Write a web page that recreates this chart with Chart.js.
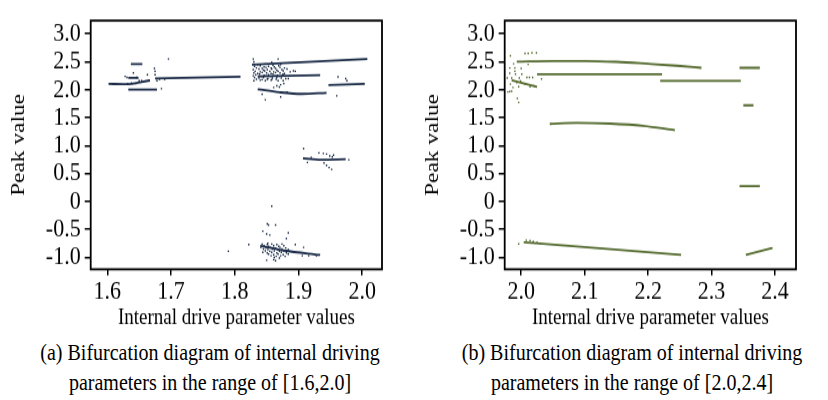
<!DOCTYPE html>
<html>
<head>
<meta charset="utf-8">
<script src="https://cdn.jsdelivr.net/npm/chart.js@4.4.0/dist/chart.umd.min.js"></script>
<style>
  body { margin: 0; background: #fff; width: 828px; height: 400px; position: relative; overflow: hidden; font-family: 'Liberation Serif', 'Times New Roman', serif; }
  .panel { position: absolute; top: 0; width: 414px; height: 330px; }
  /* the original figure is stretched vertically, so the canvases are too */
  .panel canvas { width: 414px; height: 330px; }
  .caption { position: absolute; top: 337px; width: 420px; text-align: center; font-size: 20px; line-height: 25px; color: #000; white-space: nowrap; transform: scaleY(1.2); transform-origin: top center; }
</style>
</head>
<body>
<div class="panel" style="left:0"><canvas id="chartA" width="414" height="275" style="width:414px;height:330px"></canvas></div>
<div class="panel" style="left:414px"><canvas id="chartB" width="414" height="275" style="width:414px;height:330px"></canvas></div>
<div class="caption" style="left:0">(a) Bifurcation diagram of internal driving<br>parameters in the range of [1.6,2.0]</div>
<div class="caption" style="left:422px">(b) Bifurcation diagram of internal driving<br>parameters in the range of [2.0,2.4]</div>
<script>
// y axis ticks (shared)
const yTickValues = [3.0, 2.5, 2.0, 1.5, 1.0, 0.5, 0, -0.5, -1.0];
const yTickLabels = ['3.0', '2.5', '2.0', '1.5', '1.0', '0.5', '0', '-0.5', '-1.0'];

// panel (a)
const xTicksA = [1.6, 1.7, 1.8, 1.9, 2.0];
const xLabelsA = ['1.6', '1.7', '1.8', '1.9', '2.0'];

const linesA = [
    [[1.602, 2.105], [1.628, 2.10], [1.667, 2.167]],
    [[1.637, 2.459], [1.655, 2.459]],
    [[1.633, 2.211], [1.649, 2.211]],
    [[1.633, 2.003], [1.678, 2.003]],
    [[1.675, 2.20], [1.809, 2.234]],
    [[1.827, 2.448], [2.008, 2.549]],
    [[1.836, 2.24], [1.934, 2.262]],
    [[1.836, 2.01], [1.87, 1.955], [1.905, 1.925], [1.944, 1.945]],
    [[1.947, 2.083], [2.004, 2.105]],
    [[1.907, 0.775], [1.935, 0.748], [1.974, 0.758]],
    [[1.840, -0.792], [1.877, -0.876], [1.934, -0.955]]
];

const pointsA = [
    // left group
    [1.628, 2.24], [1.631, 2.22], [1.641, 2.30], [1.646, 2.22], [1.650, 2.16], [1.632, 2.11], [1.638, 2.12],
    [1.645, 2.11], [1.654, 2.16], [1.663, 2.27], [1.674, 2.38], [1.675, 2.33], [1.675, 2.27], [1.678, 2.16],
    [1.682, 2.19], [1.690, 2.19], [1.685, 2.02], [1.696, 2.55],
    // dense group near 1.85, upper
    [1.830, 2.50], [1.858, 2.49], [1.836, 2.45], [1.848, 2.46], [1.860, 2.44], [1.872, 2.45],
    [1.831, 2.42], [1.840, 2.43], [1.846, 2.41], [1.853, 2.42], [1.862, 2.41], [1.869, 2.43],
    [1.834, 2.39], [1.843, 2.38], [1.849, 2.40], [1.857, 2.39], [1.864, 2.38], [1.871, 2.40], [1.878, 2.39],
    [1.829, 2.36], [1.838, 2.37], [1.845, 2.35], [1.851, 2.36], [1.858, 2.37], [1.866, 2.35], [1.874, 2.36], [1.882, 2.37],
    [1.832, 2.33], [1.840, 2.32], [1.847, 2.34], [1.855, 2.33], [1.861, 2.32], [1.868, 2.33], [1.876, 2.34], [1.895, 2.33],
    [1.830, 2.30], [1.836, 2.29], [1.843, 2.31], [1.850, 2.30], [1.857, 2.29], [1.864, 2.31], [1.871, 2.30], [1.878, 2.29],
    [1.833, 2.27], [1.839, 2.28], [1.846, 2.26], [1.853, 2.27], [1.860, 2.28], [1.867, 2.26], [1.875, 2.27],
    [1.829, 2.25], [1.842, 2.24], [1.849, 2.25], [1.856, 2.24], [1.863, 2.25], [1.870, 2.24],
    [1.831, 2.22], [1.838, 2.21], [1.845, 2.22], [1.852, 2.20], [1.859, 2.21], [1.866, 2.22], [1.873, 2.21], [1.880, 2.20],
    [1.834, 2.19], [1.843, 2.18], [1.851, 2.19], [1.858, 2.18], [1.865, 2.19], [1.884, 2.20],
    [1.830, 2.16], [1.840, 2.17], [1.848, 2.16], [1.857, 2.17], [1.868, 2.16], [1.876, 2.16],
    [1.829, 2.55], [1.868, 2.55], [1.887, 2.32], [1.892, 2.34], [1.876, 2.27],
    [1.861, 2.04], [1.866, 2.07], [1.870, 2.05], [1.872, 2.09], [1.877, 2.11],
    [1.843, 1.92], [1.848, 1.82], [1.872, 1.87], [1.882, 1.96],
    [1.962, 2.23], [1.974, 2.20], [1.976, 2.16], [1.960, 1.89],
    // group near 0.75
    [1.908, 0.95], [1.914, 0.70], [1.920, 0.79], [1.932, 0.87], [1.939, 0.86], [1.944, 0.85], [1.949, 0.815],
    [1.953, 0.80], [1.955, 0.83], [1.940, 0.69], [1.944, 0.647], [1.948, 0.607], [1.952, 0.575], [1.979, 0.748],
    // lower group
    [1.858, -0.08], [1.851, -0.40], [1.853, -0.42], [1.864, -0.42], [1.844, -0.53], [1.850, -0.58], [1.855, -0.60],
    [1.884, -0.56], [1.881, -0.66], [1.852, -0.745], [1.822, -0.77], [1.790, -0.89],
    [1.843, -0.76], [1.851, -0.77], [1.858, -0.76], [1.866, -0.77], [1.874, -0.76],
    [1.846, -0.79], [1.853, -0.80], [1.861, -0.79], [1.869, -0.80], [1.877, -0.79], [1.895, -0.77],
    [1.841, -0.82], [1.849, -0.83], [1.856, -0.82], [1.864, -0.83], [1.871, -0.82], [1.880, -0.83], [1.908, -0.82],
    [1.845, -0.85], [1.852, -0.86], [1.859, -0.85], [1.867, -0.86], [1.874, -0.85], [1.884, -0.86],
    [1.848, -0.88], [1.855, -0.89], [1.862, -0.88], [1.870, -0.89], [1.877, -0.88], [1.886, -0.89],
    [1.844, -0.91], [1.851, -0.92], [1.858, -0.91], [1.866, -0.92], [1.873, -0.91], [1.881, -0.92], [1.893, -0.91],
    [1.853, -0.94], [1.861, -0.95], [1.868, -0.94], [1.876, -0.95], [1.884, -0.94],
    [1.857, -0.97], [1.865, -0.98], [1.872, -0.97], [1.879, -0.98], [1.906, -0.97], [1.916, -0.97], [1.928, -0.97],
    [1.862, -1.00], [1.870, -1.01], [1.850, -1.05], [1.861, -1.04], [1.864, -1.06]
];

// panel (b)
const xTicksB = [2.0, 2.1, 2.2, 2.3, 2.4];
const xLabelsB = ['2.0', '2.1', '2.2', '2.3', '2.4'];

const linesB = [
    [[1.993, 2.504], [2.05, 2.515], [2.10, 2.515], [2.15, 2.50], [2.20, 2.465], [2.245, 2.43], [2.284, 2.392]],
    [[2.025, 2.279], [2.222, 2.279]],
    [[2.219, 2.161], [2.346, 2.161]],
    [[2.344, 2.392], [2.376, 2.392]],
    [[2.350, 1.721], [2.366, 1.721]],
    [[2.344, 0.273], [2.376, 0.273]],
    [[2.354, -0.955], [2.396, -0.831]],
    [[2.045, 1.389], [2.087, 1.406], [2.140, 1.394], [2.192, 1.355], [2.242, 1.276]],
    [[2.004, -0.730], [2.129, -0.842], [2.252, -0.955]],
    [[1.985, 2.172], [2.025, 2.054]]
];

const pointsB = [
    [1.983, 2.606], [2.006, 2.65], [2.011, 2.65], [2.017, 2.66], [2.024, 2.66], [1.988, 2.465], [2.011, 2.454],
    [1.982, 2.39], [1.990, 2.39], [2.000, 2.38], [1.982, 2.296], [1.991, 2.28], [2.001, 2.28], [1.978, 2.21],
    [1.985, 2.21], [1.997, 2.21], [2.009, 2.22], [2.013, 2.22], [2.018, 2.22], [2.032, 2.194], [1.983, 2.10],
    [1.996, 2.054], [2.014, 2.054], [1.987, 2.04], [1.993, 2.127], [1.999, 2.155], [1.979, 1.96], [1.982, 1.97],
    [1.985, 1.975], [1.994, 1.846], [1.996, 1.772], [2.006, 2.10], [2.020, 2.07], [1.990, 2.33],
    [1.996, -0.758], [2.008, -0.69], [2.014, -0.70], [2.019, -0.715], [2.025, -0.73], [2.030, -0.75]
];

const FONT = 'Liberation Serif';

const boxPlugin = {
    id: 'box',
    afterDraw(chart) {
        const { ctx, chartArea: a } = chart;
        ctx.save();
        ctx.strokeStyle = '#000';
        ctx.lineWidth = 1.8;
        ctx.strokeRect(a.left, a.top, a.right - a.left, a.bottom - a.top);
        ctx.restore();
    }
};

function toXY(arr) {
    return arr.map(p => ({ x: p[0], y: p[1] }));
}

function makeChart(id, points, lines, color, xMin, xMax, xTicks, xLabels) {
    const datasets = lines.map(seg => ({
        data: toXY(seg),
        showLine: true,
        borderColor: color,
        borderWidth: 1.8,
        pointRadius: 0,
        cubicInterpolationMode: 'monotone',
        fill: false
    }));
    datasets.push({
        data: toXY(points),
        pointStyle: 'rect',
        pointRadius: 1,
        backgroundColor: color,
        borderWidth: 0
    });

    new Chart(document.getElementById(id), {
        type: 'scatter',
        data: { datasets: datasets },
        options: {
            responsive: false,
            animation: false,
            devicePixelRatio: 1,
            layout: { padding: { top: 5, right: 32, left: 0, bottom: 0 } },
            plugins: { legend: { display: false }, tooltip: { enabled: false } },
            scales: {
                x: {
                    type: 'linear',
                    min: xMin,
                    max: xMax,
                    afterBuildTicks: axis => { axis.ticks = xTicks.map(v => ({ value: v })); },
                    afterFit: axis => { axis.height = 50.6; },
                    grid: { drawOnChartArea: false, drawTicks: true, tickLength: 5, color: '#000', lineWidth: 1.5 },
                    border: { display: false },
                    ticks: {
                        color: '#000',
                        font: { family: FONT, size: 22 },
                        padding: 1,
                        maxRotation: 0,
                        autoSkip: false,
                        callback: v => xLabels[xTicks.findIndex(t => Math.abs(t - v) < 1e-6)]
                    },
                    title: {
                        display: true,
                        text: 'Internal drive parameter values',
                        color: '#000',
                        font: { family: FONT, size: 19, lineHeight: 1.1 },
                        padding: { top: 0, bottom: 0 }
                    }
                },
                y: {
                    type: 'linear',
                    min: -1.212,
                    max: 3.236,
                    afterBuildTicks: axis => { axis.ticks = yTickValues.map(v => ({ value: v })); },
                    afterFit: axis => { axis.width = 90.7; },
                    grid: { drawOnChartArea: false, drawTicks: true, tickLength: 6, color: '#000', lineWidth: 1.5 },
                    border: { display: false },
                    ticks: {
                        color: '#000',
                        font: { family: FONT, size: 22 },
                        padding: 4,
                        autoSkip: false,
                        callback: v => yTickLabels[yTickValues.findIndex(t => Math.abs(t - v) < 1e-6)]
                    },
                    title: {
                        display: true,
                        text: 'Peak value',
                        color: '#000',
                        font: { family: FONT, size: 19.5 },
                        padding: { top: 7, bottom: 0 }
                    }
                }
            }
        },
        plugins: [boxPlugin]
    });
}

makeChart('chartA', pointsA, linesA, '#1b2b47', 1.574, 2.031, xTicksA, xLabelsA);
makeChart('chartB', pointsB, linesB, '#556b2f', 1.974, 2.433, xTicksB, xLabelsB);
</script>
</body>
</html>
